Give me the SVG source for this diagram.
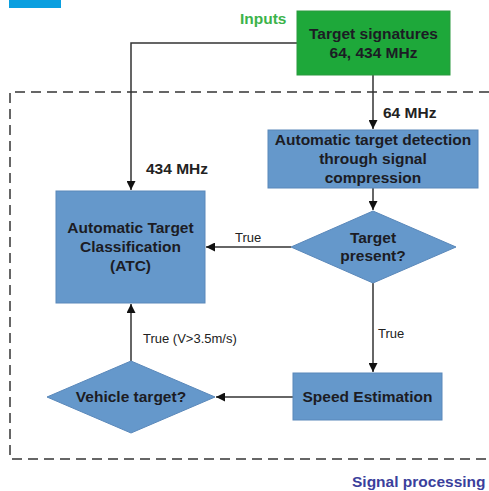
<svg xmlns="http://www.w3.org/2000/svg" width="489" height="491" viewBox="0 0 489 491">
<style>
.box{fill:#6598cb;stroke:#5a88ba;stroke-width:1}
.t{font-family:"Liberation Sans",Arial,sans-serif;font-size:15.5px;font-weight:bold;fill:#1c1c24;text-anchor:middle}
.lb{font-family:"Liberation Sans",Arial,sans-serif;font-size:15.5px;font-weight:bold;fill:#222}
.sm{font-family:"Liberation Sans",Arial,sans-serif;font-size:13px;fill:#222}
.c{fill:none;stroke:#333;stroke-width:1.5}
</style>
<defs>
<marker id="ah" viewBox="0 0 10 10" refX="10" refY="5" markerWidth="6" markerHeight="6" orient="auto" markerUnits="strokeWidth">
<path d="M0,0 L10,5 L0,10 z" fill="#111"/>
</marker>
</defs>
<rect x="9" y="0" width="52" height="8" fill="#0a9fe0"/>
<path d="M489,92 H10 V459 H489" fill="none" stroke="#666" stroke-width="2" stroke-dasharray="10 6"/>
<text class="lb" x="240" y="24" style="fill:#3cb34a">Inputs</text>
<text class="lb" x="352" y="487" style="fill:#3b3f9c">Signal processing</text>
<g id="connectors">
<path class="c" d="M297,43 H131 V190" marker-end="url(#ah)"/>
<path class="c" d="M373,75 V129" marker-end="url(#ah)"/>
<path class="c" d="M373,188 V210" marker-end="url(#ah)"/>
<path class="c" d="M291,247 H206" marker-end="url(#ah)"/>
<path class="c" d="M373,283 V372" marker-end="url(#ah)"/>
<path class="c" d="M293,397 H216" marker-end="url(#ah)"/>
<path class="c" d="M131,361 V304" marker-end="url(#ah)"/>
<text class="lb" x="383" y="118">64 MHz</text>
<text class="lb" x="146" y="174">434 MHz</text>
<text class="sm" x="235" y="242">True</text>
<text class="sm" x="378" y="338">True</text>
<text class="sm" x="143" y="343">True (V&gt;3.5m/s)</text>
</g>
<g id="inputs">
<rect x="297" y="11" width="153" height="64" fill="#1ea83a" stroke="#2a9a3e" stroke-width="1"/>
<text class="t" x="373.5" y="38.5">Target signatures</text>
<text class="t" x="373.5" y="57.5">64, 434 MHz</text>
</g>
<g id="detection">
<rect class="box" x="268" y="130" width="210" height="58"/>
<text class="t" x="373" y="144.5">Automatic target detection</text>
<text class="t" x="373" y="163.5">through signal</text>
<text class="t" x="373" y="182.5">compression</text>
</g>
<g id="target-present">
<polygon class="box" points="373,211 456,247 373,283 291,247"/>
<text class="t" x="373" y="242.5">Target</text>
<text class="t" x="373" y="261">present?</text>
</g>
<g id="atc">
<rect class="box" x="56" y="191" width="149" height="112"/>
<text class="t" x="130.5" y="233">Automatic Target</text>
<text class="t" x="130.5" y="252">Classification</text>
<text class="t" x="130.5" y="271">(ATC)</text>
</g>
<g id="speed">
<rect class="box" x="293" y="373" width="149" height="47"/>
<text class="t" x="367.5" y="401.5">Speed Estimation</text>
</g>
<g id="vehicle">
<polygon class="box" points="131,361 215,397 131,433 47,397"/>
<text class="t" x="131" y="401.5">Vehicle target?</text>
</g>
</svg>
